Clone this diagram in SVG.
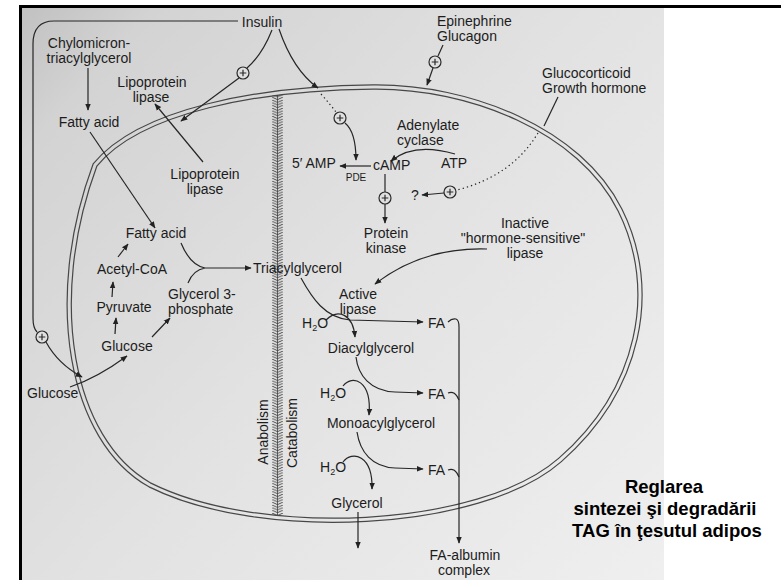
<svg xmlns="http://www.w3.org/2000/svg" xmlns:xlink="http://www.w3.org/1999/xlink" width="781" height="580" viewBox="0 0 781 580">
  <defs>
    <linearGradient id="paper" gradientUnits="userSpaceOnUse" x1="22" y1="0" x2="664" y2="580">
      <stop offset="0" stop-color="#c0c0c0"/>
      <stop offset="0.12" stop-color="#d3d3d3"/>
      <stop offset="0.5" stop-color="#e2e2e2"/>
      <stop offset="1" stop-color="#efefef"/>
    </linearGradient>
    <pattern id="hatch" patternUnits="userSpaceOnUse" x="272" y="0" width="11" height="2.7">
      <path d="M0,0 L5.5,2.4 L11,0" fill="none" stroke="#3c3c3c" stroke-width="0.9"/>
    </pattern>
    <marker id="ah" viewBox="0 0 10 10" refX="9" refY="5" markerWidth="7" markerHeight="7" markerUnits="userSpaceOnUse" orient="auto">
      <path d="M0,1 L10,5 L0,9 z" fill="#222"/>
    </marker>
    <g id="plus">
      <circle r="6" fill="#e0e0e0" stroke="#2a2a2a" stroke-width="1.2"/>
      <path d="M-3.3,0 H3.3 M0,-3.3 V3.3" stroke="#2a2a2a" stroke-width="1.2"/>
    </g>
    <!-- outline of the cell; stroked twice to get a double line -->
    <path id="memPath" d="M373,87 C470,86 580,130 620,210 C660,290 640,390 560,460 C480,530 260,540 150,485 C70,440 45,300 95,165 C140,110 260,88 373,87 Z" fill="none"/>
  </defs>
  <style>
    text { font-family: "Liberation Sans", Arial, sans-serif; font-size: 14px; fill: #1c1c1c; }
    .m { text-anchor: middle; }
    .small { font-size: 10px; }
    .title { font-weight: bold; font-size: 18.5px; fill: #000; text-anchor: middle; }
    .ln { fill: none; stroke: #262626; stroke-width: 1.2; }
    .arr { marker-end: url(#ah); }
    .dot { stroke-dasharray: 1.3 3; }
  </style>

  <!-- page -->
  <rect x="0" y="0" width="781" height="580" fill="#ffffff"/>
  <rect x="22" y="8" width="642" height="572" fill="url(#paper)"/>
  <path d="M19,6.5 H781 M20.5,6 V580" stroke="#000" stroke-width="3"/>

  <!-- cell membrane (double line) -->
  <g id="membrane">
    <use xlink:href="#memPath" href="#memPath" stroke="#474747" stroke-width="5.4"/>
    <use xlink:href="#memPath" href="#memPath" stroke="url(#paper)" stroke-width="3"/>
  </g>

  <!-- anabolism / catabolism divider -->
  <g id="divider">
    <rect x="272" y="95" width="11" height="420" fill="url(#hatch)"/>
    <line x1="277.5" y1="95" x2="277.5" y2="515" stroke="#3c3c3c" stroke-width="0.8"/>
  </g>

  <!-- connectors -->
  <g id="connectors">
    <!-- insulin, left branch round the outside to glucose uptake -->
    <path class="ln" d="M238,21 H54 Q33,21 33,44 V318 Q33,328 37,332"/>
    <path class="ln arr" d="M46,342 Q58,364 82,377"/>
    <!-- insulin to lipoprotein lipase -->
    <path class="ln" d="M272,30 Q262,55 247,68"/>
    <path class="ln arr" d="M239,78 L181,121"/>
    <!-- insulin to PDE -->
    <path class="ln arr" d="M279,29 Q293,70 318,88"/>
    <path class="ln dot" d="M321,94 Q330,104 336,112"/>
    <path class="ln arr" d="M345,123 Q356,132 356,160"/>
    <!-- epinephrine / glucagon -->
    <path class="ln" d="M443,45 L438,56"/>
    <path class="ln arr" d="M433,68 L427,85"/>
    <!-- glucocorticoid / growth hormone -->
    <path class="ln" d="M558,97 L544,126"/>
    <path class="ln dot" d="M538,133 Q512,176 457,190"/>
    <path class="ln arr" d="M444,193 L422,195"/>
    <!-- cAMP cascade -->
    <path class="ln arr" d="M455,154 Q414,142 391,161"/>
    <path class="ln arr" d="M371,166 H340"/>
    <path class="ln" d="M385,174 V192"/>
    <path class="ln arr" d="M385,204 V223"/>
    <!-- lipoprotein lipase and fatty acid uptake -->
    <path class="ln arr" d="M88,68 V110"/>
    <path class="ln arr" d="M90,132 L155,228"/>
    <path class="ln arr" d="M203,162 L155,104"/>
    <!-- glucose uptake -->
    <path class="ln arr" d="M70,387 Q97,378 127,356"/>
    <!-- synthesis -->
    <path class="ln arr" d="M118,257 L128,244"/>
    <path class="ln arr" d="M112,297 L113,282"/>
    <path class="ln arr" d="M115,334 L116,318"/>
    <path class="ln arr" d="M152,337 L170,318"/>
    <path class="ln" d="M181,243 Q190,265 205,268 M188,283 Q193,270 205,268"/>
    <path class="ln arr" d="M205,268 H251"/>
    <!-- hormone-sensitive lipase activation -->
    <path class="ln arr" d="M487,249 Q423,247 375,284"/>
    <!-- lipolysis steps -->
    <path class="ln arr" d="M301,278 C312,298 325,318 350,320 L423,322"/>
    <path class="ln arr" d="M326,320 C338,308 353,314 355,337"/>
    <path class="ln arr" d="M356,357 C358,375 370,391 395,392 L423,393"/>
    <path class="ln arr" d="M343,386 C352,374 372,380 369,415"/>
    <path class="ln arr" d="M357,432 C360,452 372,467 395,468 L423,469"/>
    <path class="ln arr" d="M343,462 C352,450 373,455 372,489"/>
    <path class="ln arr" d="M358,512 V548"/>
    <!-- fatty acid export -->
    <path class="ln arr" d="M448,322 Q452,318 456,319 Q459,320 459,327 V543"/>
    <path class="ln" d="M448,393 Q455,390 459,400"/>
    <path class="ln" d="M448,470 Q455,467 459,477"/>
    <!-- stimulation marks -->
    <use xlink:href="#plus" href="#plus" x="42" y="337"/>
    <use xlink:href="#plus" href="#plus" x="243" y="73"/>
    <use xlink:href="#plus" href="#plus" x="340" y="118"/>
    <use xlink:href="#plus" href="#plus" x="435" y="62"/>
    <use xlink:href="#plus" href="#plus" x="450" y="192"/>
    <use xlink:href="#plus" href="#plus" x="385" y="198"/>
  </g>

  <!-- hormones -->
  <g id="insulin"><text x="262" y="27" class="m">Insulin</text></g>
  <g id="epinephrine"><text x="437" y="26">Epinephrine</text><text x="437" y="41">Glucagon</text></g>
  <g id="glucocorticoid"><text x="542" y="78">Glucocorticoid</text><text x="542" y="93">Growth hormone</text></g>

  <!-- outside the cell -->
  <g id="chylomicron"><text x="89" y="48" class="m">Chylomicron-</text><text x="89" y="63" class="m">triacylglycerol</text></g>
  <g id="lpl-out"><text x="152" y="87" class="m">Lipoprotein</text><text x="151" y="102" class="m">lipase</text></g>
  <g id="fa-out"><text x="89" y="127" class="m">Fatty acid</text></g>
  <g id="glucose-out"><text x="27" y="398">Glucose</text></g>

  <!-- inside the cell: synthesis -->
  <g id="lpl-in"><text x="205" y="179" class="m">Lipoprotein</text><text x="205" y="194" class="m">lipase</text></g>
  <g id="fa-in"><text x="156" y="238" class="m">Fatty acid</text></g>
  <g id="acetylcoa"><text x="132" y="274" class="m">Acetyl-CoA</text></g>
  <g id="pyruvate"><text x="124" y="312" class="m">Pyruvate</text></g>
  <g id="glucose-in"><text x="127" y="351" class="m">Glucose</text></g>
  <g id="g3p"><text x="168" y="299">Glycerol 3-</text><text x="168" y="314">phosphate</text></g>
  <g id="tag"><text x="253" y="273">Triacylglycerol</text></g>

  <!-- inside the cell: signalling -->
  <g id="adenylate"><text x="397" y="130">Adenylate</text><text x="397" y="145">cyclase</text></g>
  <g id="atp"><text x="441" y="168">ATP</text></g>
  <g id="camp"><text x="373" y="170">cAMP</text></g>
  <g id="amp"><text x="292" y="168">5′ AMP</text></g>
  <g id="pde"><text x="356" y="181" class="m small">PDE</text></g>
  <g id="unknown"><text x="415" y="200" class="m">?</text></g>
  <g id="pk"><text x="386" y="238" class="m">Protein</text><text x="386" y="253" class="m">kinase</text></g>
  <g id="hsl"><text x="525" y="228" class="m">Inactive</text><text x="523" y="243" class="m">"hormone-sensitive"</text><text x="525" y="258" class="m">lipase</text></g>
  <g id="active-lipase"><text x="358" y="299" class="m">Active</text><text x="358" y="314" class="m">lipase</text></g>

  <!-- inside the cell: lipolysis -->
  <g id="h2o-1"><text x="302" y="328">H<tspan font-size="9" dy="3">2</tspan><tspan dy="-3">O</tspan></text></g>
  <g id="fa-1"><text x="428" y="328">FA</text></g>
  <g id="dag"><text x="371" y="353" class="m">Diacylglycerol</text></g>
  <g id="h2o-2"><text x="320" y="398">H<tspan font-size="9" dy="3">2</tspan><tspan dy="-3">O</tspan></text></g>
  <g id="fa-2"><text x="428" y="399">FA</text></g>
  <g id="mag"><text x="381" y="428" class="m">Monoacylglycerol</text></g>
  <g id="h2o-3"><text x="320" y="472">H<tspan font-size="9" dy="3">2</tspan><tspan dy="-3">O</tspan></text></g>
  <g id="fa-3"><text x="428" y="475">FA</text></g>
  <g id="glycerol"><text x="357" y="508" class="m">Glycerol</text></g>
  <g id="fa-albumin"><text x="465" y="560" class="m">FA-albumin</text><text x="464" y="575" class="m">complex</text></g>

  <!-- divider labels -->
  <g id="labels">
    <text x="0" y="0" class="m" transform="translate(268,432) rotate(-90)">Anabolism</text>
    <text x="0" y="0" class="m" transform="translate(297,433) rotate(-90)">Catabolism</text>
  </g>

  <!-- caption -->
  <g id="caption">
    <text x="664" y="493" class="title">Reglarea</text>
    <text x="665" y="515" class="title">sintezei şi degradării</text>
    <text x="667" y="537" class="title">TAG în ţesutul adipos</text>
  </g>
</svg>
